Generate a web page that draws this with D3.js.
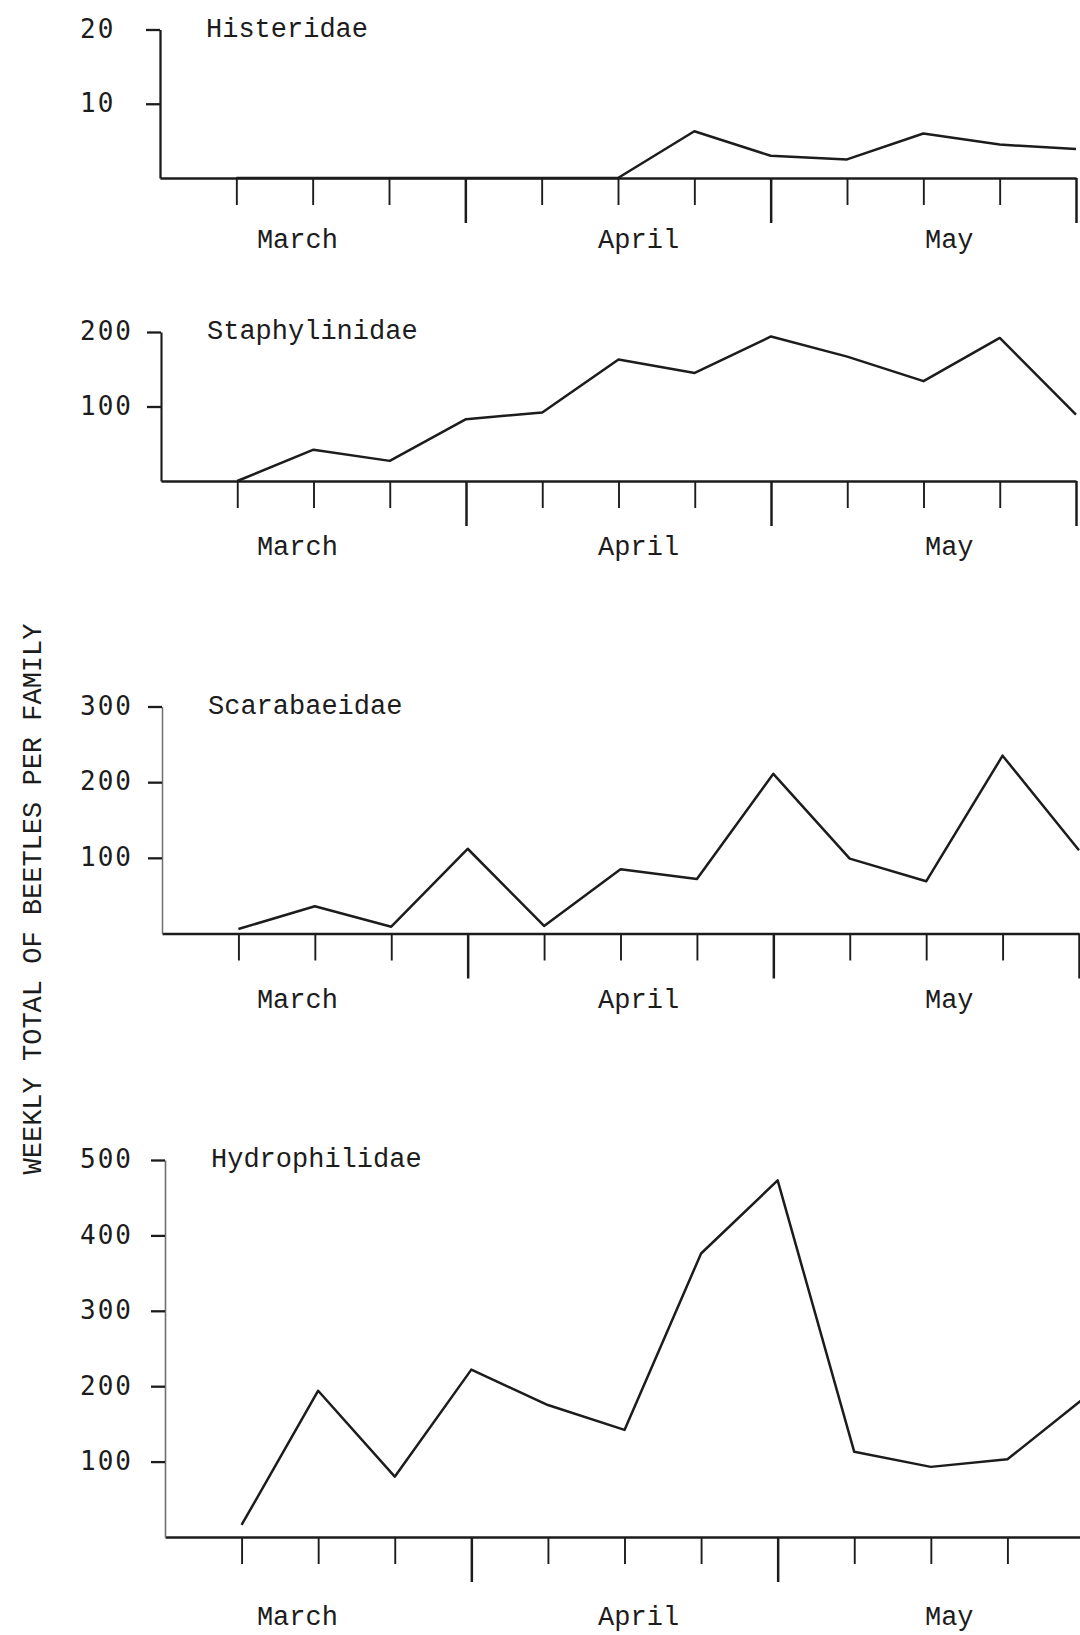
<!DOCTYPE html>
<html>
<head>
<meta charset="utf-8">
<script src="https://cdn.jsdelivr.net/npm/d3@7"></script>
<style>
  html, body { margin: 0; padding: 0; background: #ffffff; }
  svg { display: block; }
</style>
</head>
<body>
<svg id="chart" width="1080" height="1635"></svg>
<script>
// Weekly beetle totals per family, twelve weekly samples from March to May
const families = ["Histeridae", "Staphylinidae", "Scarabaeidae", "Hydrophilidae"];
const histeridae    = [0, 0, 0, 0, 0, 0, 6.3, 3.0, 2.5, 6.0, 4.5, 3.9];
const staphylinidae = [0, 42, 27, 83, 92, 163, 145, 194, 167, 134, 192, 89];
const scarabaeidae  = [6, 36, 9, 112, 10, 85, 72, 211, 99, 69, 235, 110];
const hydrophilidae = [16, 194, 80, 222, 175, 142, 376, 473, 113, 93, 103, 184];
const series = [histeridae, staphylinidae, scarabaeidae, hydrophilidae];

// y-axis extents and labelled ticks for each family
const yMax = [20, 200, 300, 500];
const yTickValues = [[10, 20], [100, 200], [100, 200, 300], [100, 200, 300, 400, 500]];

// x-axis: one tick per week; month names and the weeks closing each month
const weeks = d3.range(12);
const months = ["March", "April", "May"];
const monthEnds = [3, 7, 11];
const yTitle = "WEEKLY TOTAL OF BEETLES PER FAMILY";

// panel geometry (x0 = y-axis position, x1 = last week tick)
const layout = [
  { x0: 160, x1: 1076, base: 178,   top: 29.5,  monthDy: 62,   axisColor: "#1b1b1b", axisWidth: 2.3 },
  { x0: 161, x1: 1076, base: 481,   top: 332,   monthDy: 66,   axisColor: "#1b1b1b", axisWidth: 2.1 },
  { x0: 162, x1: 1079, base: 933.5, top: 706.5, monthDy: 66.5, axisColor: "#6f6f6f", axisWidth: 1.5 },
  { x0: 165, x1: 1084, base: 1537,  top: 1160,  monthDy: 80,   axisColor: "#6f6f6f", axisWidth: 1.6 }
];
const monthAt = [0.8, 5.27, 9.34];   // label centres in week units
const tickLabelX = 80;                // left edge of the y tick numbers

const ink = "#1c1c1c";
const serifMono = "'Liberation Mono', 'Courier New', monospace";
const sansMono = "'DejaVu Sans Mono', monospace";

const svg = d3.select("#chart");
svg.append("rect").attr("width", 1080).attr("height", 1635).attr("fill", "#ffffff");

// month names sit at the same columns on every panel
const xMonth = d3.scaleLinear().domain([-1, 11]).range([160, 1076]);

series.forEach((values, k) => {
  const L = layout[k];
  const x = d3.scaleLinear().domain([-1, 11]).range([L.x0, L.x1]);
  const y = d3.scaleLinear().domain([0, yMax[k]]).range([L.base, L.top]);
  const g = svg.append("g");

  // x axis with longer ticks at month boundaries
  const xAxis = d3.axisBottom(x)
    .tickValues(weeks)
    .tickSize(27)
    .tickSizeOuter(0)
    .tickFormat(() => "");
  const gx = g.append("g").attr("transform", `translate(0,${L.base})`).call(xAxis);
  gx.select(".domain").attr("stroke", ink).attr("stroke-width", 2.4);
  gx.selectAll(".tick line")
    .attr("stroke", ink)
    .attr("stroke-width", d => monthEnds.includes(d) ? 2.5 : 1.9)
    .attr("y2", d => monthEnds.includes(d) ? 45 : 27);

  // y axis; numbers are typed flush left in one column
  const yAxis = d3.axisLeft(y)
    .tickValues(yTickValues[k])
    .tickSize(14)
    .tickSizeOuter(0)
    .tickFormat(d3.format("d"));
  const gy = g.append("g").attr("transform", `translate(${L.x0},0)`).call(yAxis);
  gy.select(".domain").attr("stroke", L.axisColor).attr("stroke-width", L.axisWidth);
  gy.selectAll(".tick line").attr("stroke", ink).attr("stroke-width", 2.3);
  gy.selectAll(".tick text")
    .attr("x", tickLabelX - L.x0)
    .attr("dy", "0.3em")
    .attr("text-anchor", "start")
    .attr("font-family", sansMono)
    .attr("font-size", 26)
    .attr("letter-spacing", 2)
    .attr("fill", ink);

  // family name
  g.append("text")
    .attr("x", L.x0 + 46)
    .attr("y", L.top - 2)
    .attr("dy", "0.35em")
    .attr("font-family", serifMono)
    .attr("font-size", 27)
    .attr("fill", ink)
    .text(families[k]);

  // month labels
  g.selectAll("text.month")
    .data(months)
    .join("text")
    .attr("class", "month")
    .attr("x", (d, i) => xMonth(monthAt[i]))
    .attr("y", L.base + L.monthDy)
    .attr("dy", "0.3em")
    .attr("text-anchor", "middle")
    .attr("font-family", serifMono)
    .attr("font-size", 27)
    .attr("fill", ink)
    .text(d => d);

  // weekly totals
  const line = d3.line()
    .x((d, i) => x(weeks[i]))
    .y(d => y(d));
  g.append("path")
    .datum(values)
    .attr("d", line)
    .attr("fill", "none")
    .attr("stroke", ink)
    .attr("stroke-width", 2.5)
    .attr("stroke-linejoin", "round");
});

// shared y-axis title
svg.append("text")
  .attr("transform", "translate(32,899) rotate(-90)")
  .attr("dy", "0.35em")
  .attr("text-anchor", "middle")
  .attr("font-family", serifMono)
  .attr("font-size", 27)
  .attr("fill", ink)
  .text(yTitle);
</script>
</body>
</html>
